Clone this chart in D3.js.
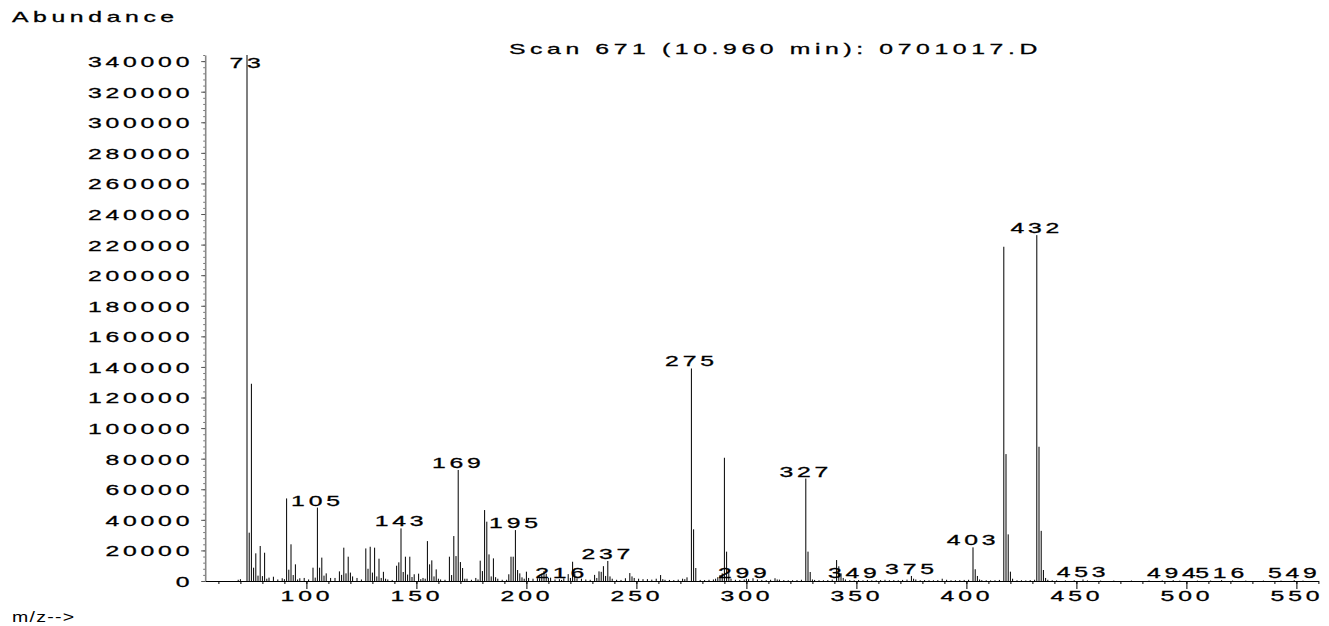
<!DOCTYPE html>
<html>
<head>
<meta charset="utf-8">
<script src="https://cdn.jsdelivr.net/npm/d3@7"></script>
<style>
  body { margin: 0; background: #fff; }
  text { font-family: "Liberation Sans", Arial, sans-serif; font-size: 15px; letter-spacing: 2.3px; fill: #000; stroke: #000; stroke-width: 0.3px; }
  text.words { letter-spacing: 2.8px; }
  text.unit { stroke: none; letter-spacing: 1px; }
</style>
</head>
<body>
<svg id="chart" width="1329" height="626"></svg>
<script>
// m/z and abundance of every ion in the scan
const mz = [69,70,73,74,75,76,77,78,79,80,81,82,83,85,87,89,90,91,92,93,94,95,96,97,99,
  101,103,104,105,106,107,108,109,111,113,115,116,117,118,119,120,121,123,125,127,128,129,130,
  131,132,133,134,135,136,137,139,141,142,143,144,145,146,147,148,149,151,152,153,154,155,156,
  157,158,159,160,161,163,165,166,167,168,169,170,171,172,173,175,177,178,179,180,181,182,183,
  184,185,186,187,189,191,192,193,194,195,196,197,198,199,200,201,203,205,206,207,208,209,210,
  211,213,215,216,217,219,220,221,222,223,225,227,229,231,232,233,234,235,236,237,238,239,241,
  243,245,247,248,249,251,253,255,257,259,261,262,263,265,267,269,271,272,273,275,276,277,279,
  281,283,285,286,287,288,289,290,291,292,293,295,297,299,300,301,303,305,307,309,311,313,314,
  315,317,319,321,323,325,327,328,329,330,331,333,335,337,339,341,342,343,344,345,347,349,351,
  353,355,357,359,361,363,365,367,369,371,373,375,376,377,379,381,383,385,387,389,391,393,395,
  397,399,401,403,404,405,406,407,409,411,413,415,417,418,419,420,421,423,425,427,429,431,432,
  433,434,435,436,437,439,441,445,449,453,455,461,467,475,483,489,494,497,505,511,516,521,527,
  535,543,549,553];
const abundance = [800,1200,344000,31600,129000,8700,18100,3500,22900,3200,18500,1500,2200,2800,1000,1800,1200,54000,7400,24000,3900,10900,1000,1800,2000,
  1000,8700,2200,48000,8700,15300,3500,5000,2000,2000,6300,4000,21800,5000,15900,5500,3000,2000,1000,21300,8000,22400,5500,
  21800,3000,14600,2000,6000,1500,1000,700,10000,12200,34400,5900,15900,4200,15900,2600,4400,4800,1200,2000,1500,26100,10900,
  13500,3000,7600,1500,1000,800,15900,3900,29400,16300,72600,12400,8500,1500,1500,800,2000,1000,13300,6500,46400,38800,17400,
  3000,14800,2500,1500,800,800,4400,15900,15900,33300,7200,5000,2400,1500,6100,2000,1500,1800,1800,4500,6500,4800,2000,
  2200,1000,1200,700,1800,4500,2000,12600,5000,1800,1500,1000,800,4000,2000,6300,6000,9700,3300,13100,3000,1500,800,
  700,1800,5200,3000,2000,1500,1200,1200,900,1500,3900,1200,800,700,600,900,1500,1200,2400,139000,33800,8500,700,
  600,800,1000,1500,2500,3900,5000,80600,19200,6800,1500,800,700,900,1500,1200,1800,1000,700,600,800,1800,1000,
  900,600,500,500,600,800,67000,19200,5900,1000,700,500,500,600,900,13700,9600,5000,2000,1000,600,500,600,
  500,700,500,500,600,800,500,600,500,700,900,3300,1500,1000,500,600,500,500,600,1500,800,500,500,
  600,700,800,22000,7700,3300,1000,600,500,400,500,700,218600,83000,30500,6100,1500,500,500,400,600,800,226200,
  87800,32800,7200,2000,800,500,400,400,500,1000,400,300,300,300,300,400,600,300,300,300,600,300,300,
  300,300,600,300];
// ions that carry an m/z label
const labeledMz = [73,105,143,169,195,216,237,275,299,327,349,375,403,432,453,494,516,549];
const yTickValues = d3.range(0, 340001, 20000);
const yMinorValues = d3.range(0, 344001, 4000);
const xTickValues = d3.range(100, 551, 50);
const xMinorValues = d3.range(60, 561, 10);
const title = 'Scan 671 (10.960 min): 0701017.D';

const SX = 1.65; // the plotter font is drawn wide

const svg = d3.select('#chart');
const x = d3.scaleLinear().domain([54, 560]).range([205.2, 1318.4]);
const y = d3.scaleLinear().domain([0, 344000]).range([581, 55]);

const peaks = mz.map((m, i) => ({ m: m, v: abundance[i] }));

// stretched text helper
function wide(g, px, py, str, anchor, sx) {
  return g.append('text')
    .attr('transform', `translate(${px},${py}) scale(${sx || SX},1)`)
    .attr('text-anchor', anchor || 'start')
    .text(str);
}

// y axis minor ticks
svg.append('g')
  .attr('transform', `translate(${x.range()[0]},0)`)
  .call(d3.axisLeft(y).tickValues(yMinorValues).tickSize(2).tickSizeOuter(0).tickFormat(''))
  .call(g => g.select('.domain').remove())
  .call(g => g.selectAll('line').attr('stroke', '#777'));

// y axis
const yAxis = svg.append('g')
  .attr('transform', `translate(${x.range()[0]},0)`)
  .call(d3.axisLeft(y).tickValues(yTickValues).tickSize(4).tickSizeOuter(0).tickFormat(d3.format('d')));
yAxis.select('.domain').attr('stroke', '#888').attr('stroke-width', 1.6);
yAxis.selectAll('line').attr('stroke', '#555');
yAxis.selectAll('text')
  .attr('font-family', null).attr('font-size', null)
  .attr('x', -12 / SX).attr('dy', '0.36em')
  .attr('transform', `scale(${SX},1)`);

// x axis minor ticks
svg.append('g')
  .attr('transform', `translate(0,${y(0)})`)
  .call(d3.axisBottom(x).tickValues(xMinorValues).tickSize(3).tickSizeOuter(0).tickFormat(''))
  .call(g => g.select('.domain').remove());

// x axis
const xAxis = svg.append('g')
  .attr('transform', `translate(0,${y(0)})`)
  .call(d3.axisBottom(x).tickValues(xTickValues).tickSize(8).tickSizeOuter(0));
xAxis.selectAll('text')
  .attr('font-family', null).attr('font-size', null)
  .attr('y', 20).attr('dy', 0)
  .attr('transform', `scale(${SX},1)`);

// ion bars
svg.append('g')
  .selectAll('rect')
  .data(peaks)
  .join('rect')
  .attr('x', d => x(d.m) - 0.5)
  .attr('y', d => y(d.v))
  .attr('width', 1)
  .attr('height', d => y(0) - y(d.v))
  .attr('fill', '#000');

// peak labels
const lab = svg.append('g');
peaks.filter(d => labeledMz.includes(d.m)).forEach(d => {
  wide(lab, x(d.m), Math.max(y(d.v) - 2, 68), String(d.m), 'middle');
});

// titles
wide(svg, 12, 22, 'Abundance').attr('class', 'words');
wide(svg, 509, 54, title).attr('class', 'words');
wide(svg, 12, 622, 'm/z-->', 'start', 1.3).attr('class', 'unit');
</script>
</body>
</html>
